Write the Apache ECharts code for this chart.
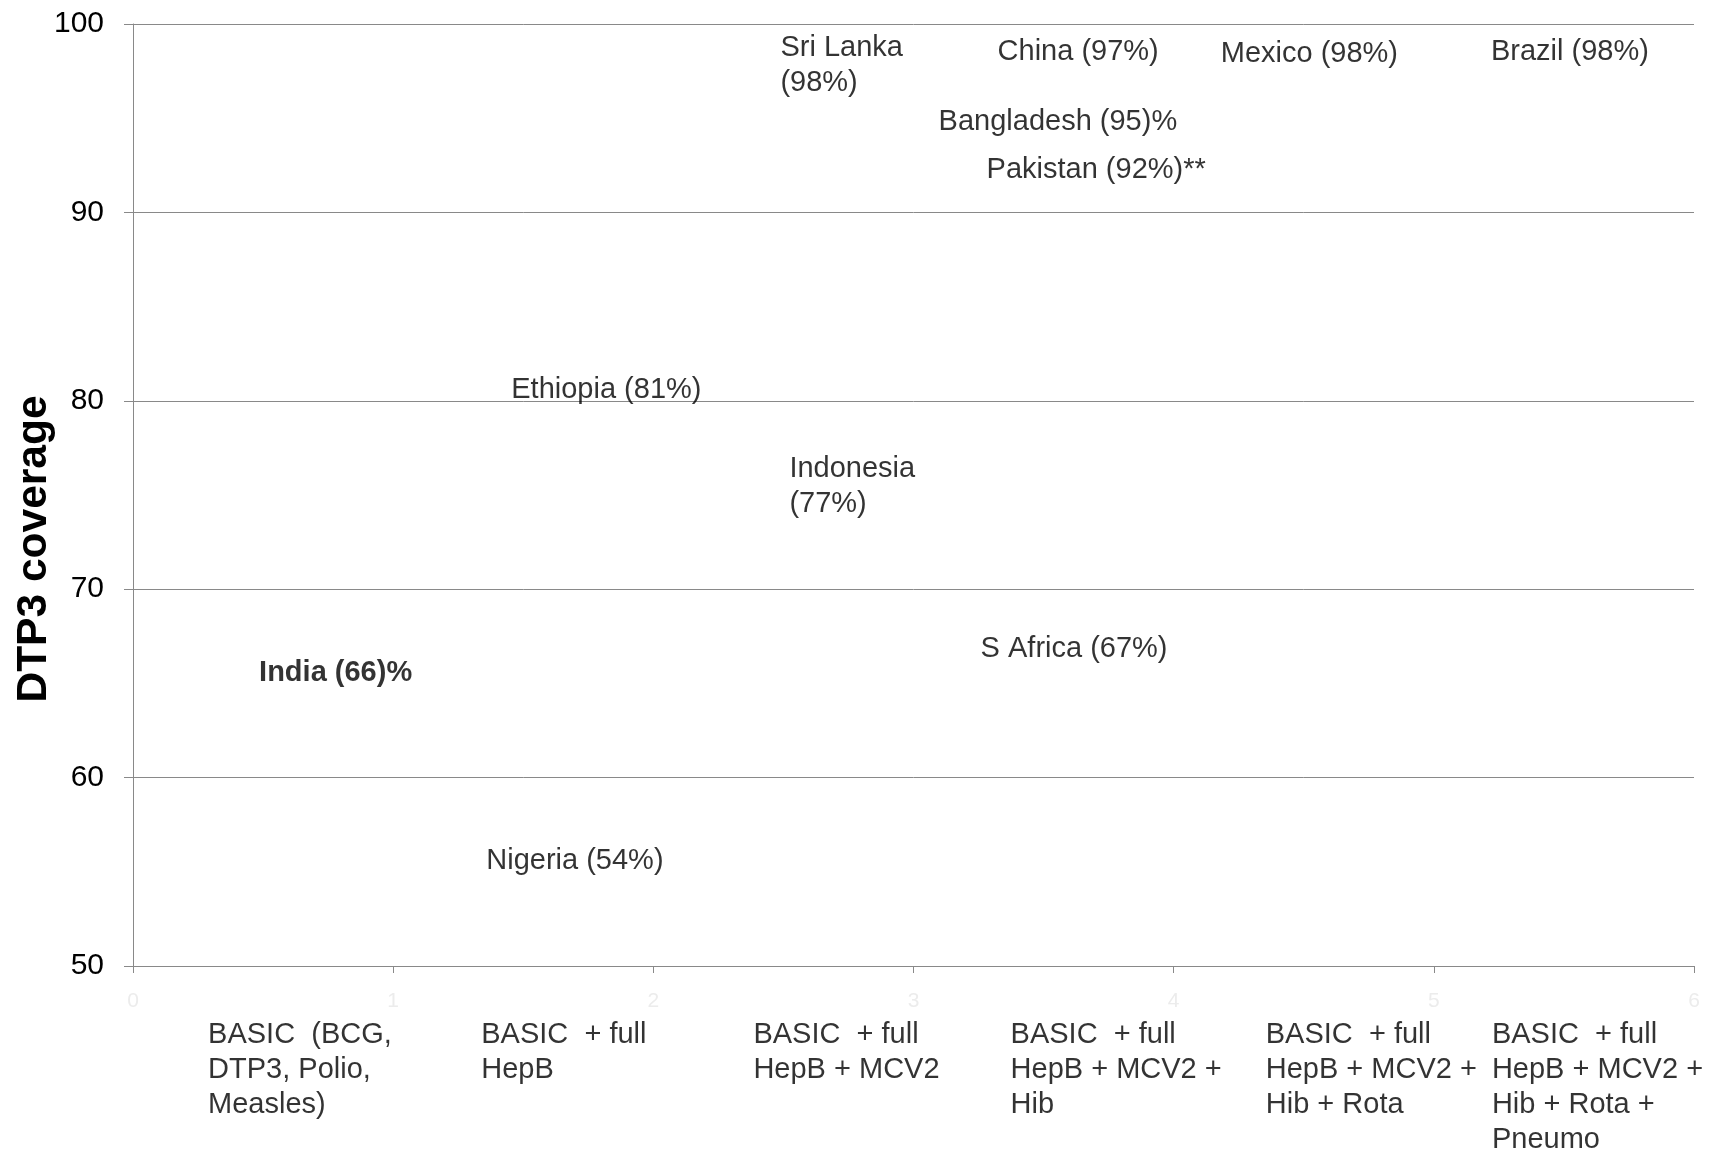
<!DOCTYPE html>
<html>
<head>
<meta charset="utf-8">
<title>DTP3 coverage by vaccine package</title>
<script src="https://cdn.jsdelivr.net/npm/echarts@6/dist/echarts.min.js"></script>
<style>
  html, body { margin: 0; padding: 0; background: #ffffff; }
  #chart { width: 1709px; height: 1150px; }
</style>
</head>
<body>
<div id="chart"></div>
<script>
// Vaccine package groups along the horizontal axis (one per unit step)
const packageLabels = [
  'BASIC  (BCG,\nDTP3, Polio,\nMeasles)',
  'BASIC  + full\nHepB',
  'BASIC  + full\nHepB + MCV2',
  'BASIC  + full\nHepB + MCV2 +\nHib',
  'BASIC  + full\nHepB + MCV2 +\nHib + Rota',
  'BASIC  + full\nHepB + MCV2 +\nHib + Rota +\nPneumo'
];
const packageCenters = [0.5, 1.5, 2.5, 3.5, 4.5, 5.5];

// Countries, the package group each one uses, and DTP3 coverage (%)
const countryNames = ['India', 'Ethiopia', 'Nigeria', 'Sri Lanka', 'Indonesia',
  'China', 'Bangladesh', 'Pakistan', 'S Africa', 'Mexico', 'Brazil'];
const countryPackage = [0.5, 1.5, 1.5, 2.5, 2.5, 3.5, 3.5, 3.5, 3.5, 4.5, 5.5];
const coverage = [66, 81, 54, 98, 77, 97, 95, 92, 67, 98, 98];
const labelTemplates = ['{n} ({v})%', '{n} ({v}%)', '{n} ({v}%)', '{n}\n({v}%)', '{n}\n({v}%)',
  '{n} ({v}%)', '{n} ({v})%', '{n} ({v}%)**', '{n} ({v}%)', '{n} ({v}%)', '{n} ({v}%)'];
const boldCountry = 'India';

// Axis ranges and ticks
const xTicks = { min: 0, max: 6, interval: 1 };
const yTicks = { min: 50, max: 100, interval: 10 };

// Label placement relative to each point, in pixels
const countryLabelOffsets = [[-4, 8], [-12, 8], [-37, -30], [-3, 4], [6, 29],
  [-46, -29], [-105, 4], [-57, -5], [-63, 3], [-83, -8], [-73, -10]];
const packageLabelOffsets = [[-55, 51], [-42, 51], [-30, 51], [-33, 51], [-38, 51], [-72, 51]];

const FONT = '"Liberation Sans", Arial, Helvetica, sans-serif';
const GRID_COLOR = '#898989';

const chart = echarts.init(document.getElementById('chart'), null, { renderer: 'canvas' });

const countryData = coverage.map((v, i) => ({
  name: countryNames[i],
  value: [countryPackage[i], v],
  label: {
    formatter: labelTemplates[i].replace('{n}', countryNames[i]).replace('{v}', v),
    offset: countryLabelOffsets[i],
    fontWeight: countryNames[i] === boldCountry ? 'bold' : 'normal'
  }
}));

const packageData = packageLabels.map((t, i) => ({
  name: t,
  value: [packageCenters[i], yTicks.min],
  label: { formatter: t, offset: packageLabelOffsets[i] }
}));

const option = {
  animation: false,
  backgroundColor: '#ffffff',
  grid: { left: 133, right: 15, top: 24, bottom: 184, outerBoundsMode: 'none', containLabel: false },
  xAxis: {
    type: 'value',
    min: xTicks.min, max: xTicks.max, interval: xTicks.interval,
    axisLine: { show: true, lineStyle: { color: GRID_COLOR, width: 1 } },
    axisTick: { show: true, length: 7, lineStyle: { color: GRID_COLOR, width: 1 } },
    axisLabel: { show: true, color: '#ececec', fontSize: 21, margin: 25, fontFamily: FONT },
    splitLine: { show: false }
  },
  yAxis: {
    type: 'value',
    min: yTicks.min, max: yTicks.max, interval: yTicks.interval,
    name: 'DTP3 coverage',
    nameLocation: 'middle',
    nameGap: 77,
    nameMoveOverlap: false,
    nameTextStyle: {
      color: '#000000', fontSize: 42.5, fontWeight: 'bold', fontFamily: FONT,
      padding: [0, 108, 0, 0]
    },
    axisLine: { show: true, lineStyle: { color: GRID_COLOR, width: 1 } },
    axisTick: { show: true, length: 9, lineStyle: { color: GRID_COLOR, width: 1 } },
    axisLabel: { color: '#000000', fontSize: 30, margin: 29, fontFamily: FONT },
    splitLine: { show: true, lineStyle: { color: GRID_COLOR, width: 1 } }
  },
  series: [
    {
      name: 'Countries',
      type: 'scatter',
      clip: false,
      symbolSize: 1,
      itemStyle: { color: 'rgba(0,0,0,0)' },
      emphasis: { disabled: true },
      label: {
        show: true,
        position: 'inside',
        align: 'left',
        verticalAlign: 'middle',
        color: '#000000',
        fontSize: 29,
        lineHeight: 35,
        fontFamily: FONT,
        textBorderWidth: 0
      },
      data: countryData
    },
    {
      name: 'Packages',
      type: 'scatter',
      clip: false,
      symbolSize: 1,
      itemStyle: { color: 'rgba(0,0,0,0)' },
      emphasis: { disabled: true },
      label: {
        show: true,
        position: 'inside',
        align: 'left',
        verticalAlign: 'top',
        color: '#000000',
        fontSize: 29,
        lineHeight: 35,
        fontFamily: FONT,
        textBorderWidth: 0
      },
      data: packageData
    }
  ]
};

chart.setOption(option);
</script>
</body>
</html>
